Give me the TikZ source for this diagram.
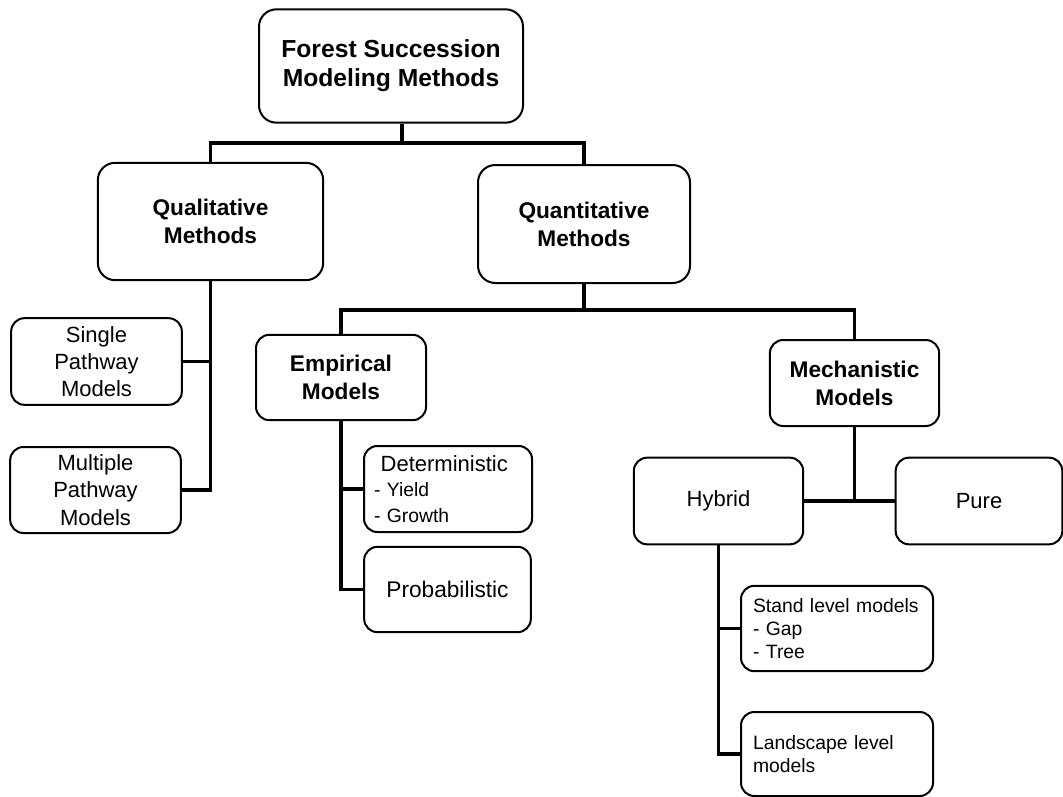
\documentclass[tikz,border=0pt]{standalone}
\usepackage{fontspec}
\setmainfont{Liberation Sans}
\usetikzlibrary{calc}

\tikzset{
  box/.style={draw, line width=1.5pt, rounded corners=10pt, inner sep=0pt, align=center},
  bigbox/.style={box, font=\fontsize{17}{21}\selectfont\bfseries},
  smallbox/.style={box, font=\fontsize{16.5}{20.5}\selectfont},
  listbox/.style={box, align=left, font=\fontsize{14.5}{17.5}\selectfont},
  link/.style={line width=2.4pt}
}

\begin{document}
\begin{tikzpicture}[x=0.75pt, y=-0.75pt]
  \useasboundingbox (0,0) rectangle (1063,796);
  % Wurzel
  \node[bigbox, font=\fontsize{18.5}{21.5}\selectfont\bfseries, minimum width=198pt, minimum height=85pt, rounded corners=13pt] (root) at (391,66)
    {Forest Succession\\Modeling Methods};
  % Erste Ebene
  \node[bigbox, minimum width=169pt, minimum height=88pt, rounded corners=13pt] (qual) at (210.5,221.5)
    {Qualitative\\Methods};
  \node[bigbox, minimum width=159pt, minimum height=88.5pt, rounded corners=13pt] (quant) at (584,224)
    {Quantitative\\Methods};
  % Qualitative Zweige
  \node[smallbox, minimum width=128pt, minimum height=65pt] (single) at (96.5,361.5)
    {Single\\Pathway\\Models};
  \node[smallbox, minimum width=128pt, minimum height=64.5pt] (multi) at (95.5,490)
    {Multiple\\Pathway\\Models};
  % Quantitative Zweige
  \node[bigbox, minimum width=127.5pt, minimum height=64pt] (emp) at (341,377.5)
    {Empirical\\Models};
  \node[bigbox, minimum width=127pt, minimum height=64.5pt] (mech) at (854.5,383)
    {Mechanistic\\Models};
  % Empirische Modelle
  \node[listbox, font=\fontsize{14.5}{19}\selectfont, inner xsep=7.5pt, text width=111pt, minimum height=64.5pt] (det) at (448,489)
    {\hspace*{5pt}{\fontsize{16.5}{19}\selectfont Deterministic}\\- Yield\\- Growth};
  \node[smallbox, font=\fontsize{17}{20}\selectfont, minimum width=125pt, minimum height=64pt] (prob) at (447.5,589.5)
    {Probabilistic};
  % Mechanistische Modelle
  \node[smallbox, minimum width=127pt, minimum height=65pt] (hyb) at (718.5,501)
    {Hybrid};
  \node[smallbox, minimum width=125pt, minimum height=65pt] (pure) at (979,501)
    {Pure};
  \node[listbox, inner xsep=9pt, text width=126pt, minimum height=64pt] (stand) at (837,628.5)
    {Stand level models\\- Gap\\- Tree};
  \node[listbox, inner xsep=9pt, text width=126pt, minimum height=63pt] (land) at (837,754)
    {Landscape level\\models};
  % Verbindungen
  \coordinate (j1) at (402,143);
  \draw[link] (root.south -| j1) -- (j1);
  \draw[link] (qual.north) |- (j1) -| (quant.north);
  \draw[link] (qual.south) |- (multi.east);
  \draw[link] (single.east) -- (single.east -| qual.south);
  \draw[link] (quant.south) -- ++(0,26) coordinate (j2);
  \draw[link] (emp.north) |- (j2) -| (mech.north);
  \draw[link] (emp.south) |- (prob.west);
  \draw[link] (det.west) -- (det.west -| emp.south);
  \draw[link] (mech.south) -- (mech.south |- hyb.east);
  \draw[link] (hyb.east) -- (pure.west);
  \draw[link] (hyb.south) |- (land.west);
  \draw[link] (stand.west) -- (stand.west -| hyb.south);
\end{tikzpicture}
\end{document}
